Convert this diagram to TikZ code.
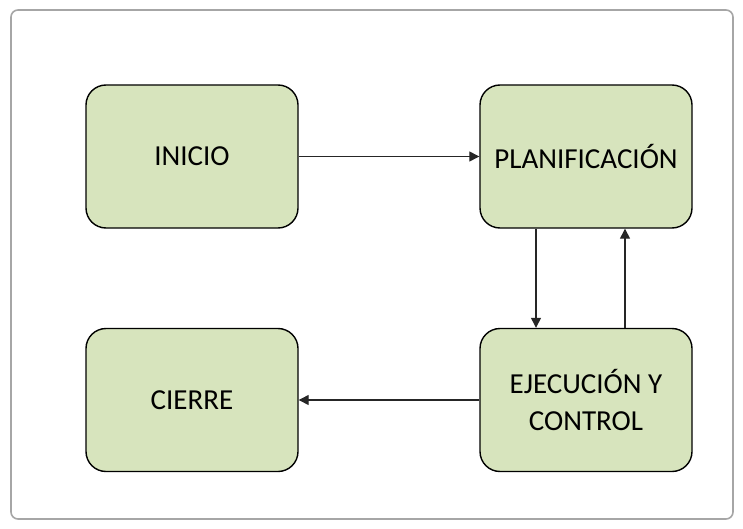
\documentclass[tikz,border=0pt]{standalone}
\usepackage{fontspec}
\setmainfont{Carlito}
\usetikzlibrary{arrows.meta}
\definecolor{boxfill}{HTML}{D7E4BD}
\definecolor{framegray}{HTML}{A6A6A6}
\tikzset{
  phase/.style={draw=black, line width=1.4pt, fill=boxfill, rounded corners=20pt,
    minimum width=212pt, minimum height=143pt, inner sep=0pt, align=center,
    font=\fontsize{29}{37}\selectfont},
  flow/.style={draw=black!85, line width=1.3pt, -{Triangle[length=10pt,width=10pt]}}
}
\begin{document}
\begin{tikzpicture}[x=1pt,y=-1pt]
  \useasboundingbox (0,0) rectangle (743,529);
  % outer panel
  \draw[framegray, line width=1.6pt, rounded corners=7pt] (11,10) rectangle (733,519);
  % phases
  \node[phase] (inicio) at (192,156.5) {INICIO};
  \node[phase] (plan) at (586,156.5) {PLANIFICACIÓN};
  \node[phase] (cierre) at (192,400) {CIERRE};
  \node[phase] (ejec) at (586,400) {EJECUCIÓN Y\\CONTROL};
  % transitions
  \draw[flow] (inicio.east) -- (plan.west);
  \draw[flow] (ejec.west) -- (cierre.east);
  \draw[flow] (plan.south -| 536,0) -- (ejec.north -| 536,0);
  \draw[flow] (ejec.north -| 625,0) -- (plan.south -| 625,0);
\end{tikzpicture}
\end{document}
